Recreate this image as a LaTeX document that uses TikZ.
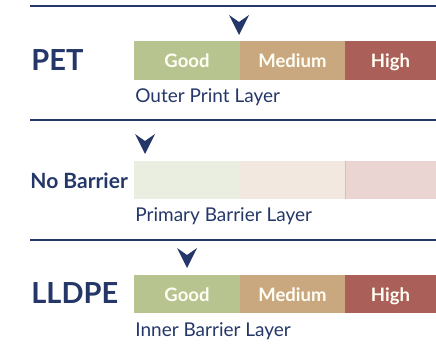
\documentclass[tikz,border=0pt]{standalone}
\usepackage{fontspec}
\setmainfont{Lato}
\usetikzlibrary{positioning}
\definecolor{navy}{HTML}{243768}
\definecolor{goodc}{HTML}{B7C48F}
\definecolor{medc}{HTML}{C9A880}
\definecolor{highc}{HTML}{AA5F58}
\definecolor{goodl}{HTML}{EAEEE1}
\definecolor{medl}{HTML}{F2E8E0}
\definecolor{highl}{HTML}{EAD5D3}
\definecolor{highe}{HTML}{DDBDB8}
\tikzset{
  seg/.style={minimum height=39pt,inner sep=0pt,outer sep=0pt,text=white!96!yellow,
    text height=15pt,text depth=0pt,font=\fontsize{18.5}{20}\selectfont\bfseries},
  matl/.style={anchor=base west,inner sep=0pt,text=navy,font=\bfseries},
  layer/.style={anchor=base west,inner sep=0pt,text=navy,
    font=\fontsize{19}{21}\selectfont},
  pointer/.pic={\fill[navy] (-10,-10) -- (0,-3) -- (10,-10) -- (0,10) -- cycle;}
}
\begin{document}
\begin{tikzpicture}[x=1pt,y=-1pt,line width=2.8pt]
\useasboundingbox (0,0) rectangle (436,347);
% separators
\foreach \y in {6,120,240} {\draw[navy] (30,\y)--(436,\y);}
% PET
\node[matl,font=\fontsize{29}{31}\selectfont\bfseries] (pet) at (30,71) {PET};
\node[seg,fill=goodc,minimum width=106pt] (petgood) at (187,60.5) {Good};
\node[seg,fill=medc,minimum width=105pt,right=0pt of petgood] (petmed) {Medium};
\node[seg,fill=highc,minimum width=91pt,right=0pt of petmed] (pethigh) {High};
\node[layer] (petlayer) at (134,103) {Outer Print Layer};
\pic at (239,25) {pointer};
% no barrier
\node[matl,font=\fontsize{21}{23}\selectfont\bfseries] (nob) at (29,189) {No Barrier};
\node[seg,fill=goodl,minimum width=106pt,minimum height=38pt] (nobgood) at (187,180) {};
\node[seg,fill=medl,minimum width=105pt,minimum height=38pt,right=0pt of nobgood] (nobmed) {};
\node[seg,fill=highl,minimum width=91pt,minimum height=38pt,right=0pt of nobmed] (nobhigh) {};
\draw[highe,line width=0.6pt] (nobhigh.north west)--(nobhigh.south west);
\node[layer] (noblayer) at (134,222) {Primary Barrier Layer};
\pic at (145,144) {pointer};
% LLDPE
\node[matl,font=\fontsize{29}{31}\selectfont\bfseries] (lldpe) at (30,303) {LLDPE};
\node[seg,fill=goodc,minimum width=106pt,minimum height=38pt] (lgood) at (187,294) {Good};
\node[seg,fill=medc,minimum width=105pt,minimum height=38pt,right=0pt of lgood] (lmed) {Medium};
\node[seg,fill=highc,minimum width=91pt,minimum height=38pt,right=0pt of lmed] (lhigh) {High};
\node[layer] (llayer) at (134,336) {Inner Barrier Layer};
\pic at (187,258) {pointer};
\end{tikzpicture}
\end{document}
